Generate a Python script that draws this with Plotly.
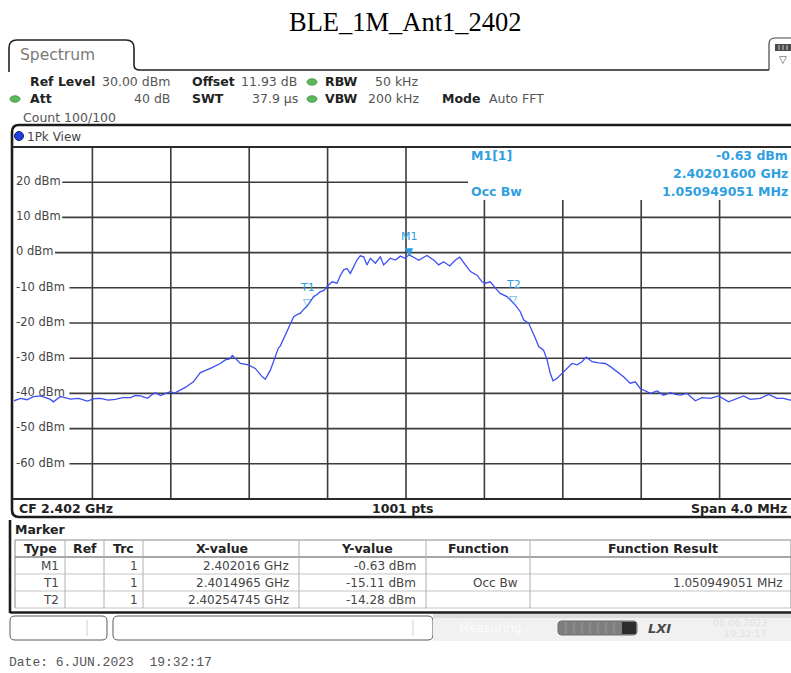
import plotly.graph_objects as go

# ---------------- measured trace (1Pk View, trace 1) ----------------
freq_mhz = [
    2400.000, 2400.033, 2400.066, 2400.099, 2400.135, 2400.160, 2400.186, 2400.201,
    2400.220, 2400.237, 2400.260, 2400.288, 2400.330, 2400.374, 2400.410, 2400.441,
    2400.480, 2400.517, 2400.555, 2400.594, 2400.620, 2400.645, 2400.681, 2400.700,
    2400.721, 2400.747, 2400.775, 2400.798, 2400.820, 2400.839, 2400.874, 2400.915,
    2400.951, 2401.002, 2401.053, 2401.078, 2401.100, 2401.114, 2401.135, 2401.155,
    2401.196, 2401.231, 2401.267, 2401.282, 2401.308, 2401.334, 2401.349, 2401.359,
    2401.385, 2401.410, 2401.427, 2401.445, 2401.461, 2401.480, 2401.4965, 2401.529,
    2401.545, 2401.563, 2401.580, 2401.597, 2401.623, 2401.648, 2401.665, 2401.682,
    2401.699, 2401.716, 2401.733, 2401.750, 2401.767, 2401.784, 2401.801, 2401.818,
    2401.844, 2401.869, 2401.886, 2401.920, 2401.946, 2401.971, 2401.995, 2402.016,
    2402.048, 2402.065, 2402.082, 2402.107, 2402.141, 2402.167, 2402.192, 2402.223,
    2402.252, 2402.274, 2402.303, 2402.329, 2402.362, 2402.388, 2402.405, 2402.430,
    2402.456, 2402.481, 2402.515, 2402.54745, 2402.558, 2402.583, 2402.600, 2402.626,
    2402.643, 2402.660, 2402.677, 2402.702, 2402.720, 2402.736, 2402.750, 2402.771,
    2402.796, 2402.822, 2402.847, 2402.873, 2402.898, 2402.920, 2402.949, 2402.983,
    2403.017, 2403.043, 2403.077, 2403.110, 2403.144, 2403.170, 2403.195, 2403.221,
    2403.247, 2403.281, 2403.314, 2403.349, 2403.375, 2403.400, 2403.434, 2403.476,
    2403.510, 2403.553, 2403.595, 2403.646, 2403.689, 2403.722, 2403.757, 2403.808,
    2403.850, 2403.893, 2403.926, 2403.960, 2404.000,
]
level_dbm = [
    -42.1, -41.4, -41.8, -40.9, -40.7, -41.3, -41.7, -42.4,
    -41.5, -40.9, -41.2, -41.6, -41.4, -42.2, -41.5, -41.4,
    -41.9, -41.7, -41.2, -41.2, -40.6, -40.7, -41.4, -40.5,
    -39.8, -40.6, -40.0, -39.5, -39.9, -39.3, -38.3, -36.7,
    -34.1, -32.9, -31.5, -30.5, -30.2, -29.2, -30.4, -31.5,
    -31.9, -32.9, -35.3, -36.0, -33.4, -29.1, -27.1, -26.5,
    -23.4, -20.1, -18.2, -17.6, -17.2, -16.0, -15.11, -12.5,
    -12.0, -11.1, -10.8, -9.7, -8.3, -8.7, -6.5, -4.9,
    -4.5, -5.9, -3.8, -2.1, -0.9, -1.2, -3.5, -1.6,
    -3.0, -1.2, -3.5, -1.6, -2.1, -1.0, -1.6, -0.63,
    -1.6, -2.2, -1.6, -0.8, -2.1, -3.5, -2.6, -3.8,
    -2.1, -1.3, -3.5, -5.4, -6.4, -8.3, -8.7, -8.3,
    -10.1, -11.6, -12.5, -14.28, -14.9, -16.8, -19.1, -20.1,
    -22.0, -24.3, -26.7, -27.7, -30.5, -34.3, -36.4, -35.7,
    -34.3, -32.9, -31.5, -31.9, -31.0, -29.7, -31.0, -31.3,
    -31.5, -32.4, -33.8, -35.3, -37.1, -36.7, -38.6, -39.2,
    -40.0, -39.3, -40.5, -39.8, -40.3, -40.5, -40.0, -42.1,
    -41.2, -41.4, -40.7, -42.4, -41.4, -40.7, -41.7, -41.4,
    -40.3, -41.4, -41.4, -41.9, -41.6,
]

# ---------------- axes / grid ----------------
center_mhz = 2402.0
span_mhz = 4.0
ref_level = 30
bottom_level = -70
grid_levels = [20, 10, 0, -10, -20, -30, -40, -50, -60]
grid_labels = ["20 dBm", "10 dBm", "0 dBm", "-10 dBm", "-20 dBm",
               "-30 dBm", "-40 dBm", "-50 dBm", "-60 dBm"]
x_divisions = 10

# ---------------- markers ----------------
marker_names = ["M1", "T1", "T2"]
marker_freq_mhz = [2402.016, 2401.4965, 2402.54745]
marker_level_dbm = [-0.63, -15.11, -14.28]
marker_filled = [True, False, False]

# ---------------- marker table ----------------
table_header = ["Type", "Ref", "Trc", "X-value", "Y-value", "Function", "Function Result"]
table_rows = [
    ["M1", "", "1", "2.402016 GHz", "-0.63 dBm", "", ""],
    ["T1", "", "1", "2.4014965 GHz", "-15.11 dBm", "Occ Bw", "1.050949051 MHz"],
    ["T2", "", "1", "2.40254745 GHz", "-14.28 dBm", "", ""],
]

# ---------------- page geometry (pixels) ----------------
W, H = 791, 673
PL, PR, PT, PB = 14, 791, 147, 499          # diagram area
DIV_PX = 78.4                               # one horizontal division
MHZ_PER_PX = (span_mhz / x_divisions) / DIV_PX
F0 = center_mhz - span_mhz / 2
X_END = F0 + (PR - PL) * MHZ_PER_PX

UI = "DejaVu Sans"
DARK = "#222222"
GREY = "#555555"
BLUE = "#2f9fe0"
TRACE = "#3d4ff0"
GRID = "#3c3c3c"


def xp(px):
    return (px - PL) / (PR - PL)


def yp(py):
    return (PB - py) / (PB - PT)


def pt(px, py):
    return f"{xp(px):.5f},{yp(py):.5f}"


def f_of_px(px):
    return F0 + (px - PL) * MHZ_PER_PX


def dbm_of_py(py):
    return ref_level - (py - PT) * (ref_level - bottom_level) / (PB - PT)


shapes = []
annotations = []


def pline(x0, y0, x1, y1, color=DARK, width=1.0):
    shapes.append(dict(type="line", xref="paper", yref="paper",
                       x0=xp(x0), y0=yp(y0), x1=xp(x1), y1=yp(y1),
                       line=dict(color=color, width=width), layer="above"))


def ppath(d, color=DARK, width=1.0, fill=None):
    s = dict(type="path", xref="paper", yref="paper", path=d,
             line=dict(color=color, width=width), layer="above")
    if fill:
        s["fillcolor"] = fill
    shapes.append(s)


def rrect(x0, y0, x1, y1, r):
    return (f"M {pt(x0 + r, y0)} L {pt(x1 - r, y0)} Q {pt(x1, y0)} {pt(x1, y0 + r)} "
            f"L {pt(x1, y1 - r)} Q {pt(x1, y1)} {pt(x1 - r, y1)} "
            f"L {pt(x0 + r, y1)} Q {pt(x0, y1)} {pt(x0, y1 - r)} "
            f"L {pt(x0, y0 + r)} Q {pt(x0, y0)} {pt(x0 + r, y0)} Z")


def prect(x0, y0, x1, y1, fill, color=None, width=0):
    shapes.append(dict(type="rect", xref="paper", yref="paper",
                       x0=xp(x0), y0=yp(y0), x1=xp(x1), y1=yp(y1),
                       fillcolor=fill, line=dict(color=color or fill, width=width),
                       layer="above"))


def dot(cx, cy, rx, ry, fill, edge):
    shapes.append(dict(type="circle", xref="paper", yref="paper",
                       x0=xp(cx - rx), x1=xp(cx + rx), y0=yp(cy + ry), y1=yp(cy - ry),
                       fillcolor=fill, line=dict(color=edge, width=1), layer="above"))


def txt(px, py, s, size=12.5, color=GREY, bold=False, anchor="left",
        family=UI, italic=False):
    t = s
    if bold:
        t = f"<b>{t}</b>"
    if italic:
        t = f"<i>{t}</i>"
    annotations.append(dict(x=xp(px), y=yp(py), xref="paper", yref="paper",
                            text=t, showarrow=False, xanchor=anchor, yanchor="middle",
                            borderpad=0, font=dict(family=family, size=size, color=color)))


# ---------------- grid (data coordinates) ----------------
box_left_px, box_bottom_px = 468, 200
for i in range(1, x_divisions):
    fx = F0 + i * span_mhz / x_divisions
    top = ref_level
    if PL + i * DIV_PX > box_left_px:
        top = dbm_of_py(box_bottom_px)
    shapes.append(dict(type="line", xref="x", yref="y", x0=fx, x1=fx,
                       y0=bottom_level, y1=top, line=dict(color=GRID, width=1.6),
                       layer="below"))
for lvl, lab in zip(grid_levels, grid_labels):
    x_start = f_of_px(19 + 7.2 * len(lab))
    x_stop = X_END
    if lvl > dbm_of_py(box_bottom_px):
        x_stop = f_of_px(box_left_px)
    shapes.append(dict(type="line", xref="x", yref="y", x0=x_start, x1=x_stop,
                       y0=lvl, y1=lvl, line=dict(color=GRID, width=1.6), layer="below"))

# ---------------- title ----------------
txt(405, 22, "BLE_1M_Ant1_2402", size=26.5, color="#000000", anchor="center",
    family="Liberation Serif")

# ---------------- "Spectrum" tab and header ----------------
ppath(f"M {pt(9, 72)} L {pt(9, 48)} Q {pt(9, 40)} {pt(17, 40)} L {pt(126, 40)} "
      f"Q {pt(134, 40)} {pt(134, 48)} L {pt(134, 65)} Q {pt(134, 70)} {pt(140, 70)} "
      f"L {pt(769, 70)}", color=DARK, width=1.6)
txt(19, 55, "Spectrum", size=15.5, color="#7a7a7a")
ppath(f"M {pt(769, 70)} L {pt(769, 44)} Q {pt(769, 38)} {pt(775, 38)} L {pt(795, 38)}",
      color="#444444", width=1.2)
prect(775, 44, 791, 51, "#4a4a4a")
for sx in (779, 783, 787):
    pline(sx, 45, sx, 50, color="#cfcfcf", width=1)
txt(783, 59, "▽", size=10, color="#444444", anchor="center")

for label, x, y in [("Ref Level", 29, 81), ("Offset", 191, 81), ("RBW", 324, 81),
                    ("Att", 29, 99), ("SWT", 191, 99), ("VBW", 324, 99),
                    ("Mode", 441, 99)]:
    txt(x, y, label, bold=True, color=DARK)
for value, x, y, anc in [("30.00 dBm", 171, 81, "right"), ("11.93 dB", 298, 81, "right"),
                         ("50 kHz", 420, 81, "right"), ("40 dB", 171, 99, "right"),
                         ("37.9 µs", 299, 99, "right"), ("200 kHz", 420, 99, "right"),
                         ("Auto FFT", 488, 99, "left"), ("Count 100/100", 22, 117, "left")]:
    txt(x, y, value, anchor=anc)
dot(312, 82, 5, 3.2, "#5cb85c", "#4a9a4a")
dot(312, 99, 5, 3.2, "#5cb85c", "#4a9a4a")
dot(15, 99, 5, 3.2, "#5cb85c", "#4a9a4a")

# ---------------- diagram frame ----------------
ppath(rrect(12, 125, 805, 517, 7), color="#1c1c1c", width=2.6)
pline(12, PT, 791, PT, color="#2a2a2a", width=2)
pline(12, PB, 791, PB, color="#2a2a2a", width=2)
dot(19, 136, 4.5, 4.5, "#1f3fd8", "#10207a")
txt(26, 136.5, "1Pk View", size=12, color="#444444")

# marker info box inside the diagram
txt(470, 156, "M1[1]", bold=True, color=BLUE)
txt(470, 191, "Occ Bw", bold=True, color=BLUE)
txt(789, 156, "-0.63 dBm", bold=True, color=BLUE, anchor="right")
txt(789, 173.5, "2.40201600 GHz", bold=True, color=BLUE, anchor="right")
txt(789, 191, "1.050949051 MHz", bold=True, color=BLUE, anchor="right")

# footer of the diagram
txt(18, 508.5, "CF 2.402 GHz", bold=True, color=DARK)
txt(403, 508.5, "1001 pts", bold=True, color=DARK, anchor="center")
txt(788, 508.5, "Span 4.0 MHz", bold=True, color=DARK, anchor="right")

# ---------------- marker table ----------------
pline(10, 520, 10, 613, color="#1c1c1c", width=2.6)
pline(10, 612.5, 791, 612.5, color="#1c1c1c", width=2.6)
txt(14, 529.5, "Marker", bold=True, color=DARK, size=12.5)
col_edges = [15, 65, 104, 143, 299, 426, 530, 791]
row_lines = [540, 557, 574, 591, 608]
for i, yy in enumerate(row_lines):
    pline(15, yy, 791, yy, color="#8a8a8a" if i in (0, 1) else "#c4c4c4",
          width=1.4 if i == 1 else 1)
for i, xx in enumerate(col_edges):
    pline(xx, 540, xx, 608, color="#8a8a8a" if i in (0, 7) else "#b0b0b0", width=1)
header_cx = [40, 85, 123, 222, 367, 478, 663]
for name, cx in zip(table_header, header_cx):
    txt(cx, 548.5, name, bold=True, color=DARK, anchor="center", size=12.5)
cell_right = [60, None, 139, 290, 417, 519, 784]
row_cy = [566, 583, 600]
for row, cy in zip(table_rows, row_cy):
    for val, rx in zip(row, cell_right):
        if val and rx is not None:
            txt(rx, cy, val, color="#444444", anchor="right", size=12)

# ---------------- status bar ----------------
ppath(rrect(10, 616, 107, 640, 5), color="#5a5a5a", width=1)
pline(87, 620, 87, 636, color="#d0d0d0", width=1)
ppath(rrect(113, 616, 433, 640, 5), color="#5a5a5a", width=1)
pline(413, 620, 413, 636, color="#d0d0d0", width=1)
prect(433, 614, 791, 641, "#f1f1f1")
prect(433, 614, 791, 618, "#dcdcdc")
txt(458, 628, "Measuring...", size=12, color="#fbfbfb")
ppath(rrect(558, 621, 637, 635, 4), color="#6f6f6f", width=1, fill="#7e7e7e")
prect(622, 622, 636, 634, "#2d2d2d")
for sx in range(566, 622, 8):
    pline(sx, 622, sx, 634, color="#9a9a9a", width=1)
txt(647, 628, "LXI", size=13, color="#4a4a4a", bold=True, italic=True)
txt(768, 622.5, "06.06.2023", size=9.5, color="#e2e2e2", anchor="right")
txt(768, 633.5, "19:32:17", size=9.5, color="#e2e2e2", anchor="right")

# ---------------- date line ----------------
txt(8, 662, "Date: 6.JUN.2023\u00a0\u00a019:32:17", size=13, color="#555555",
    family="Liberation Mono")

# ---------------- markers on the trace ----------------
for name, fx, lv, filled in zip(marker_names, marker_freq_mhz, marker_level_dbm, marker_filled):
    annotations.append(dict(x=fx, y=lv, xref="x", yref="y", text="▼" if filled else "▽",
                            showarrow=False, yanchor="middle", xanchor="center",
                            yshift=4, borderpad=0,
                            font=dict(family=UI, size=10.5, color=BLUE)))
    annotations.append(dict(x=fx, y=lv, xref="x", yref="y", text=name,
                            showarrow=False, yanchor="middle", xanchor="center",
                            yshift=18, borderpad=0,
                            font=dict(family=UI, size=11, color=BLUE)))

fig = go.Figure()
# level labels sit under the trace
fig.add_trace(go.Scatter(
    x=[f_of_px(16)] * len(grid_levels), y=grid_levels, text=grid_labels,
    mode="text", textposition="middle right", hoverinfo="skip",
    textfont=dict(family=UI, size=11.5, color="#454545")))
fig.add_trace(go.Scatter(
    x=freq_mhz, y=level_dbm, mode="lines",
    line=dict(color=TRACE, width=1.3), hoverinfo="skip"))

fig.update_layout(
    width=W, height=H, autosize=False, showlegend=False,
    margin=dict(l=PL, r=W - PR, t=PT, b=H - PB, pad=0),
    paper_bgcolor="white", plot_bgcolor="white",
    xaxis=dict(range=[F0, X_END], visible=False, fixedrange=True),
    yaxis=dict(range=[bottom_level, ref_level], visible=False, fixedrange=True),
    shapes=shapes, annotations=annotations,
)

fig.write_html("out.html")
